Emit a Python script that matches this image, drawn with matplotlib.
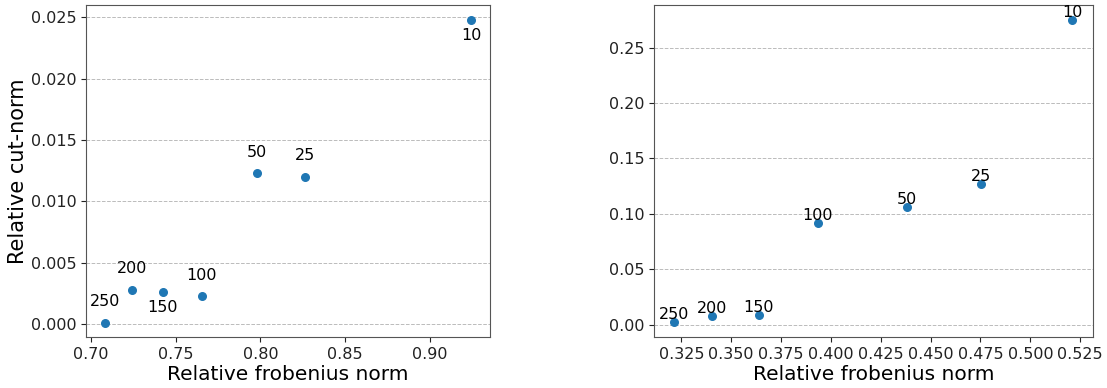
import matplotlib
matplotlib.use("Agg")
import matplotlib.pyplot as plt

labels = ["10", "25", "50", "100", "150", "200", "250"]

# left panel
frob_a = [0.9246, 0.8265, 0.7981, 0.7652, 0.7422, 0.7240, 0.7081]
cut_a = [0.02478, 0.01201, 0.01231, 0.00226, 0.00261, 0.00280, 0.00010]
# label above (+1) or below (-1) the point
side_a = [-1, 1, 1, 1, -1, 1, 1]

# right panel
frob_b = [0.5209, 0.4754, 0.4383, 0.3933, 0.3638, 0.3404, 0.3212]
cut_b = [0.2749, 0.1271, 0.1064, 0.0916, 0.0087, 0.0078, 0.0021]

fig = plt.figure(figsize=(11.07, 3.88), dpi=100)
ax1 = fig.add_axes([0.0777, 0.1314, 0.3649, 0.8557])
ax2 = fig.add_axes([0.5908, 0.1314, 0.3965, 0.8557])

for ax in (ax1, ax2):
    ax.grid(axis="y", linestyle="--", color="#bbbbbb", linewidth=0.7)
    ax.set_axisbelow(True)
    ax.tick_params(labelsize=11.5, colors="#222222")
    for sp in ax.spines.values():
        sp.set_color("#555555")

ax1.scatter(frob_a, cut_a, s=30, color="tab:blue", zorder=3)
for x, y, t, s in zip(frob_a, cut_a, labels, side_a):
    off = 15 if s > 0 else -11.5
    ax1.annotate(t, (x, y), xytext=(0, off), textcoords="offset points",
                 ha="center", va="center", fontsize=11.5)
ax1.set_xlim(0.697, 0.9355)
ax1.set_ylim(-0.00106, 0.026)
ax1.set_xticks([0.70, 0.75, 0.80, 0.85, 0.90])
ax1.set_yticks([0.0, 0.005, 0.010, 0.015, 0.020, 0.025])
ax1.set_xlabel("Relative frobenius norm", fontsize=14.5, labelpad=2)
ax1.set_ylabel("Relative cut-norm", fontsize=15, labelpad=2)

ax2.scatter(frob_b, cut_b, s=30, color="tab:blue", zorder=3)
for x, y, t in zip(frob_b, cut_b, labels):
    ax2.annotate(t, (x, y), xytext=(0, 5.5), textcoords="offset points",
                 ha="center", va="center", fontsize=11.5)
ax2.set_xlim(0.3113, 0.5314)
ax2.set_ylim(-0.0111, 0.2885)
ax2.set_xticks([0.325, 0.350, 0.375, 0.400, 0.425, 0.450, 0.475, 0.500, 0.525])
ax2.set_yticks([0.0, 0.05, 0.10, 0.15, 0.20, 0.25])
ax2.set_xlabel("Relative frobenius norm", fontsize=14.5, labelpad=2)

fig.savefig("out.png", dpi=100)
